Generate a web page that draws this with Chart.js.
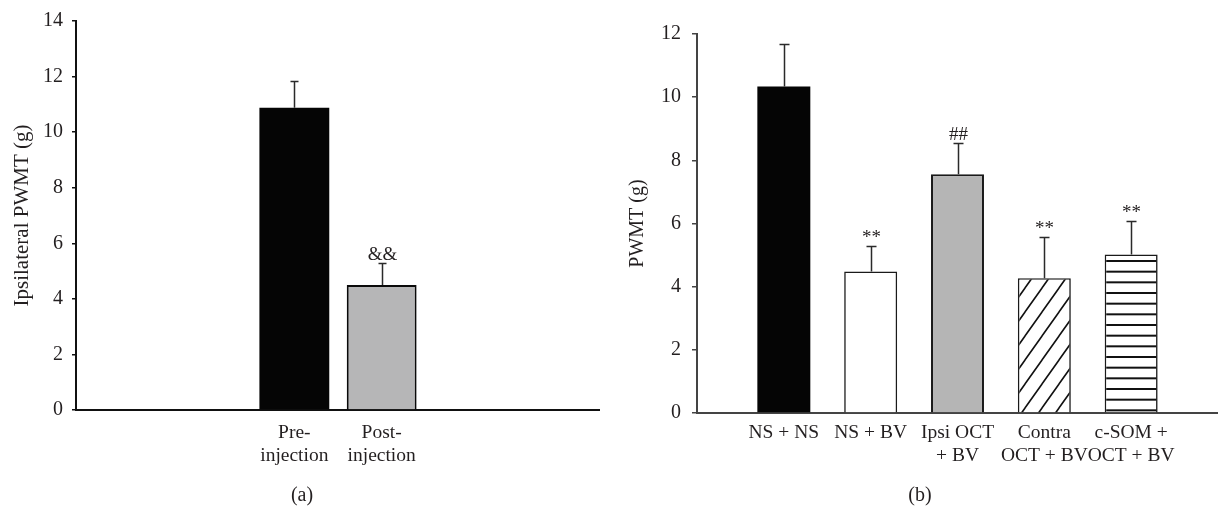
<!DOCTYPE html>
<html>
<head>
<meta charset="utf-8">
<script src="https://cdn.jsdelivr.net/npm/chart.js@4.4.1/dist/chart.umd.min.js"></script>
<style>
  html, body { margin: 0; padding: 0; background: #fff; }
  #wrap { position: relative; width: 1218px; height: 509px; overflow: hidden; }
  .panel { position: absolute; top: 0; height: 509px; }
  #panelA { left: 0; width: 600px; }
  #panelB { left: 600px; width: 618px; }
</style>
</head>
<body>
<div id="wrap">
  <div class="panel" id="panelA"><canvas id="chartA"></canvas></div>
  <div class="panel" id="panelB"><canvas id="chartB"></canvas></div>
</div>
<script>
// ===== panel (a) data =====
const labelsA = ["", "", ["Pre-", "injection"], ["Post-", "injection"], "", ""];
const valuesA = [null, null, 10.88, 4.5, null, null];
const errorsA = [null, null, 0.96, 0.8, null, null];
const marksA = ["", "", "", "&&", "", ""];
const ticksA = [0, 2, 4, 6, 8, 10, 12, 14];

// ===== panel (b) data =====
const labelsB = ["", "NS + NS", "NS + BV", ["Ipsi OCT", "+ BV"], ["Contra", "OCT + BV"], ["c-SOM +", "OCT + BV"], ""];
const valuesB = [null, 10.34, 4.48, 7.56, 4.27, 5.02, null];
const errorsB = [null, 1.35, 0.8, 0.98, 1.3, 1.05, null];
const marksB = ["", "", "**", "##", "**", "**", ""];
const ticksB = [0, 2, 4, 6, 8, 10, 12];

const TEXT = "#231f20";
Chart.defaults.font.family = "'Liberation Serif', 'DejaVu Serif', serif";
Chart.defaults.font.size = 19;
Chart.defaults.color = TEXT;

// ===== fill patterns =====
function stripePattern() {
    const c = document.createElement("canvas");
    c.width = 8; c.height = 32;
    const g = c.getContext("2d");
    g.fillStyle = "#fff";
    g.fillRect(0, 0, 8, 32);
    g.fillStyle = "#111";
    [5, 15.67, 26.33].forEach(y => g.fillRect(0, y - 1, 8, 2));
    return g.createPattern(c, "repeat");
}

function hatchPattern() {
    const w = 17, h = 24;
    const c = document.createElement("canvas");
    c.width = w; c.height = h;
    const g = c.getContext("2d");
    g.fillStyle = "#fff";
    g.fillRect(0, 0, w, h);
    g.strokeStyle = "#111";
    g.lineWidth = 1.6;
    g.beginPath();
    for (const k of [-1, 0, 1]) {
        g.moveTo(k * w - 2, h + 2 * h / w);
        g.lineTo(k * w + w + 2, -2 * h / w);
    }
    g.stroke();
    return g.createPattern(c, "repeat");
}

// ===== plugins =====
const errorBars = {
    id: "errorBars",
    afterDatasetsDraw(chart, args, opts) {
        const { ctx } = chart;
        const yScale = chart.scales.y;
        const meta = chart.getDatasetMeta(0);
        const data = chart.data.datasets[0].data;
        ctx.save();
        ctx.strokeStyle = opts.color;
        ctx.lineWidth = opts.width;
        ctx.fillStyle = TEXT;
        ctx.font = opts.font;
        ctx.textAlign = "center";
        ctx.textBaseline = "alphabetic";
        opts.errors.forEach((err, i) => {
            const v = data[i];
            if (v == null || err == null) return;
            const x = Math.round(meta.data[i].x) + 0.5;
            const y0 = yScale.getPixelForValue(v);
            const y1 = Math.round(yScale.getPixelForValue(v + err)) + 0.5;
            ctx.beginPath();
            ctx.moveTo(x, y0);
            ctx.lineTo(x, y1);
            ctx.moveTo(x - opts.cap / 2, y1);
            ctx.lineTo(x + opts.cap / 2, y1);
            ctx.stroke();
            if (opts.marks[i]) ctx.fillText(opts.marks[i], x, y1 - opts.gap);
        });
        ctx.restore();
    }
};

const caption = {
    id: "caption",
    afterDraw(chart, args, opts) {
        const { ctx } = chart;
        ctx.save();
        ctx.fillStyle = TEXT;
        ctx.font = "20px 'Liberation Serif', serif";
        ctx.textAlign = "center";
        ctx.textBaseline = "middle";
        ctx.fillText(opts.text, opts.x, opts.y);
        ctx.restore();
    }
};

// ===== chart builder =====
function buildChart(id, cfg) {
    return new Chart(document.getElementById(id), {
        type: "bar",
        data: {
            labels: cfg.labels,
            datasets: [{
                data: cfg.values,
                backgroundColor: cfg.fills,
                borderColor: cfg.borderColor,
                borderWidth: cfg.borderWidths,
                barPercentage: cfg.barPct,
                categoryPercentage: 1
            }]
        },
        options: {
            responsive: true,
            maintainAspectRatio: false,
            animation: false,
            layout: { padding: { top: cfg.top, left: 0, right: 0, bottom: 0 } },
            plugins: {
                legend: { display: false },
                tooltip: { enabled: false },
                errorBars: { errors: cfg.errors, marks: cfg.marks, color: "#2a2a2a", width: 1.5, cap: cfg.cap, gap: 4, font: "19px 'Liberation Serif', serif" },
                caption: cfg.caption
            },
            scales: {
                x: {
                    offset: cfg.offset,
                    grid: { display: false, drawTicks: false },
                    border: { display: true, color: cfg.axisColor, width: 2 },
                    ticks: { autoSkip: false, maxRotation: 0, minRotation: 0, padding: cfg.xPad, font: { size: 19.5, lineHeight: 1.16 }, color: TEXT },
                    afterFit: s => {
                        s.height = cfg.xHeight;
                        s.paddingLeft = 0;
                        s.paddingRight = 0;
                    }
                },
                y: {
                    min: cfg.ticks[0],
                    max: cfg.ticks[cfg.ticks.length - 1],
                    afterBuildTicks: s => { s.ticks = cfg.ticks.map(v => ({ value: v })); },
                    grid: { display: true, drawOnChartArea: false, drawTicks: true, tickLength: cfg.tickLen, color: cfg.axisColor, lineWidth: 1.5 },
                    border: { display: true, color: cfg.axisColor, width: 2 },
                    ticks: { padding: cfg.yPad, font: { size: 20 }, color: TEXT },
                    title: { display: true, text: cfg.yTitle, font: { size: cfg.titleSize }, color: TEXT, padding: { top: cfg.titlePad, bottom: 0 } },
                    afterFit: s => { s.width = cfg.yWidth; }
                }
            }
        },
        plugins: [errorBars, caption]
    });
}

buildChart("chartA", {
    labels: labelsA, values: valuesA, errors: errorsA, marks: marksA, ticks: ticksA,
    fills: ["#fff", "#fff", "#050505", "#b6b6b7", "#fff", "#fff"],
    borderColor: "#0a0a0a",
    borderWidths: [0, 0, 0, 2, 0, 0],
    barPct: 0.8, offset: true,
    top: 15, yWidth: 76, xHeight: 99, tickLen: 4, yPad: 9, xPad: 12,
    axisColor: "#111", cap: 8, titlePad: 10, titleSize: 21,
    yTitle: "Ipsilateral PWMT (g)",
    caption: { text: "(a)", x: 302, y: 496 }
});

buildChart("chartB", {
    labels: labelsB, values: valuesB, errors: errorsB, marks: marksB, ticks: ticksB,
    fills: ["#fff", "#050505", "#ffffff", "#b5b5b5", hatchPattern(), stripePattern(), "#fff"],
    borderColor: "#1a1a1a",
    borderWidths: [0, 0, 1.6, 2, 1.6, 1.6, 0],
    barPct: 0.61, offset: false,
    top: 34, yWidth: 97, xHeight: 96, tickLen: 5, yPad: 11, xPad: 9,
    axisColor: "#444", cap: 10, titlePad: 26, titleSize: 20,
    yTitle: "PWMT (g)",
    caption: { text: "(b)", x: 320, y: 496 }
});
</script>
</body>
</html>
